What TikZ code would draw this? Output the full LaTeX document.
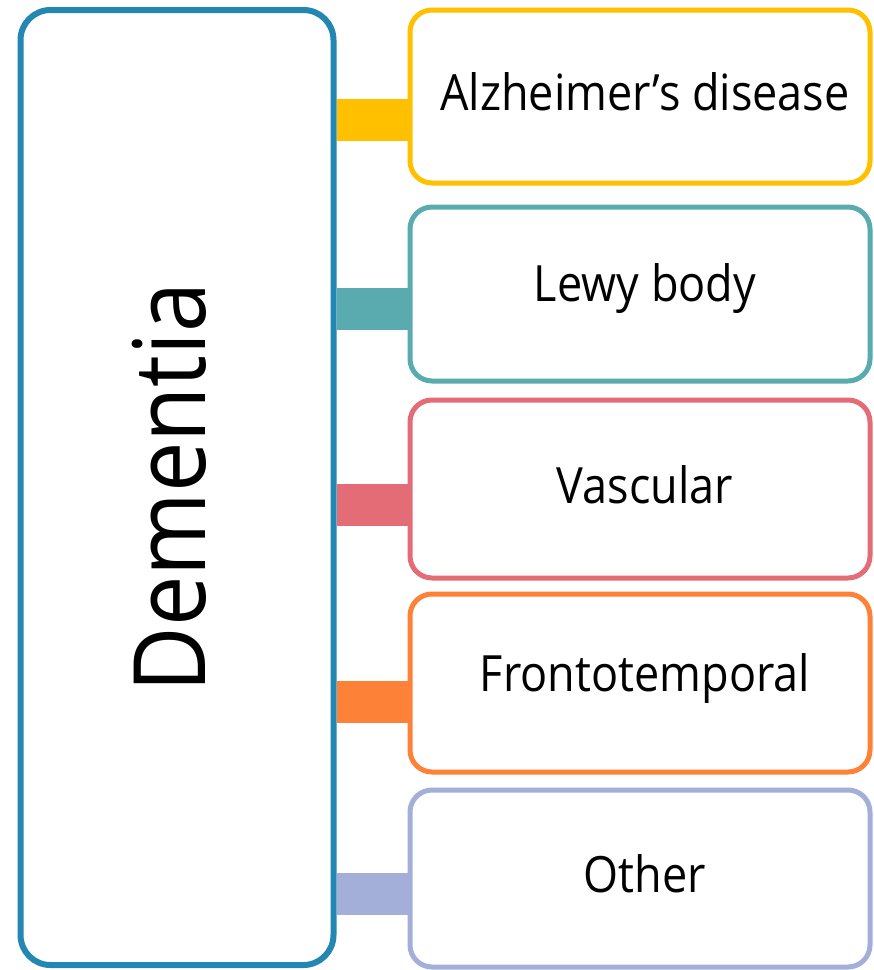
\documentclass[tikz,border=0pt]{standalone}
\usepackage{fontspec}
\setmainfont[FakeStretch=0.9]{Open Sans}
\definecolor{cblue}{HTML}{2387B4}
\definecolor{cyellow}{HTML}{FFC000}
\definecolor{cteal}{HTML}{5AABAF}
\definecolor{cred}{HTML}{E46C77}
\definecolor{corange}{HTML}{FD8136}
\definecolor{clav}{HTML}{A3AFD9}
\tikzset{
  mainbox/.style={draw=cblue, line width=6pt, rounded corners=30pt, fill=white,
    minimum width=313pt, minimum height=955pt, inner sep=0pt},
  subbox/.style={draw=#1, line width=5pt, rounded corners=22pt, fill=white,
    minimum width=460pt, inner sep=0pt},
  lbl/.style={font=\fontsize{50}{56}\selectfont, text=black},
  bar/.style={draw=#1, line width=42pt},
}
\begin{document}
\begin{tikzpicture}[x=1pt,y=-1pt]
\useasboundingbox (0,0) rectangle (874,970);
\fill[white] (0,0) rectangle (874,970);
\coordinate (y1) at (0,120);
\coordinate (y2) at (0,309);
\coordinate (y3) at (0,505);
\coordinate (y4) at (0,702);
\coordinate (y5) at (0,894);
% boxes (nodes) first for names
\node[mainbox] (dem) at (177,487.5) {};
\node[subbox=cyellow, minimum height=173pt] (b1) at (640,96.5) {};
\node[subbox=cteal, minimum height=174pt] (b2) at (640,294) {};
\node[subbox=cred, minimum height=178pt] (b3) at (640,489) {};
\node[subbox=corange, minimum height=178pt] (b4) at (640,683) {};
\node[subbox=clav, minimum height=177pt] (b5) at (640,878.5) {};
% connectors
\draw[bar=cyellow] (dem.east |- y1) -- (b1.west |- y1);
\draw[bar=cteal] (dem.east |- y2) -- (b2.west |- y2);
\draw[bar=cred] (dem.east |- y3) -- (b3.west |- y3);
\draw[bar=corange] (dem.east |- y4) -- (b4.west |- y4);
\draw[bar=clav] (dem.east |- y5) -- (b5.west |- y5);
% labels
\node[rotate=90, font=\fontsize{100}{110}\selectfont] (demt) at (169,487.5) {Dementia};
\node[lbl] (t1) at (645,92) {Alzheimer’s disease};
\node[lbl] (t2) at (645,289) {Lewy body};
\node[lbl] (t3) at (645,485) {Vascular};
\node[lbl] (t4) at (645,679) {Frontotemporal};
\node[lbl] (t5) at (645,874) {Other};
\end{tikzpicture}
\end{document}
